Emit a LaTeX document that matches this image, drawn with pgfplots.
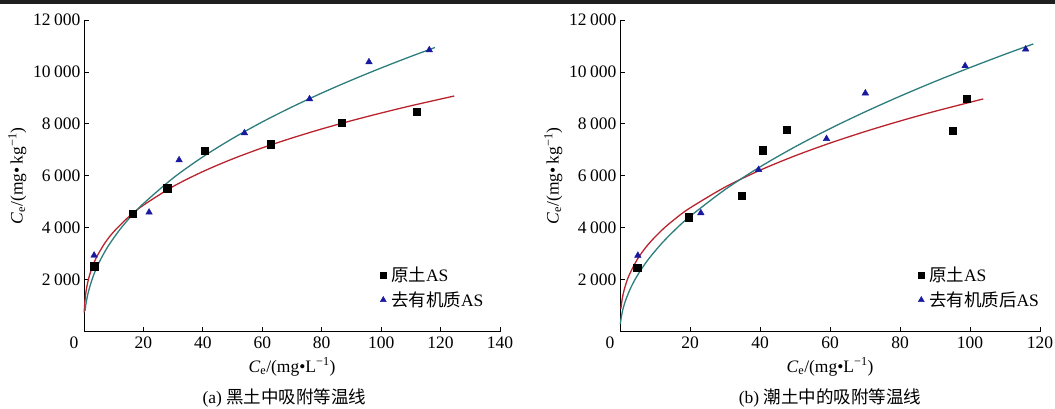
\documentclass[border=0pt]{standalone}
\usepackage{fontspec}
\setmainfont{Liberation Serif}
\newfontfamily\cjk{Noto Sans CJK SC}
\usepackage{pgfplots}
\pgfplotsset{compat=1.18}

\definecolor{cred}{RGB}{185,35,45}
\definecolor{cteal}{RGB}{45,125,125}
\definecolor{cblue}{RGB}{25,25,160}

\newcommand{\fs}{\fontsize{17.5}{21}\selectfont}

\pgfplotsset{
 myaxis/.style={
  scale only axis,
  axis lines=left,
  axis line style={-, line width=0.8pt},
  tick align=inside,
  major tick length=5pt,
  tick style={black, line width=0.8pt},
  ymin=0, ymax=12000,
  ytick={2000,4000,...,12000},
  font=\fs,
  /pgf/number format/assume math mode=true,
  /pgf/number format/1000 sep={\hspace{0.2em}},
  scaled y ticks=false,
  scaled x ticks=false,
  xticklabel style={yshift=-2pt},
  extra x ticks={0},
  extra x tick style={xticklabel style={xshift=-10pt}, major tick length=0pt},
  clip=false,
  xlabel={\textit{C}\textsubscript{e}/(mg\textbullet L\textsuperscript{−1})},
  xlabel style={yshift=-2pt},
  ylabel={\textit{C}\textsubscript{e}/(mg\textbullet\,kg\textsuperscript{−1})},
  legend cell align=left,
  legend style={draw=none, fill=none, font=\fs, anchor=north west,
    row sep=0pt, inner sep=0pt,
    nodes={inner xsep=4.5pt, inner ysep=4.3pt}},
 },
 redcurve/.style={cred, line width=1.3pt, smooth, forget plot},
 tealcurve/.style={cteal, line width=1.3pt, smooth, forget plot},
 sqmark/.style={only marks, mark=square*, mark size=3.7pt, black,
   legend image code/.code={\draw[##1, mark size=3.3pt] plot coordinates {(0pt,0pt)};}},
 trimark/.style={only marks, mark=triangle*, mark size=3.8pt, cblue,
   legend image code/.code={\draw[##1, mark size=3.4pt] plot coordinates {(0pt,0pt)};}},
}

\begin{document}
\begin{tikzpicture}
\path[use as bounding box] (0pt,0pt) rectangle (1055pt,409pt);
\fill[black!88] (0pt,405pt) rectangle (1055pt,409pt);

% ---------- panel (a)
\begin{axis}[myaxis,
  at={(84pt,77.3pt)}, anchor=south west,
  width=416pt, height=311.7pt,
  xmin=0, xmax=140, xtick={20,40,...,140},
  legend style={at={(axis description cs:0.711,0.222)}},
]
\addplot[redcurve] coordinates {(0.08,745) (0.2,1018) (0.5,1390) (1,1759) (2,2226) (4,2818) (7,3409) (10,3848) (15,4417) (20,4871) (30,5591) (40,6165) (50,6651) (60,7077) (70,7457) (80,7805) (90,8123) (100,8419) (110,8697) (124.6,9074)};
\addplot[tealcurve] coordinates {(0.35,804) (0.7,1097) (1.5,1544) (3,2106) (5,2649) (8,3270) (12,3923) (16,4463) (20,4933) (30,5916) (40,6731) (50,7440) (60,8075) (70,8652) (80,9187) (90,9684) (100,10153) (110,10597) (118.1,10940)};
\addplot[sqmark] coordinates {(3.4,2528) (16.3,4543) (28.0,5518) (40.7,6969) (62.8,7225) (86.7,8047) (112.0,8470)};
\addlegendentry{{\cjk 原土}AS}
\addplot[trimark] coordinates {(3.4,2939) (21.9,4595) (32.0,6610) (54.0,7649) (75.9,8958) (95.9,10383) (116.2,10845)};
\addlegendentry{{\cjk 去有机质}AS}
\end{axis}

% ---------- panel (b)
\begin{axis}[myaxis,
  at={(620pt,77.3pt)}, anchor=south west,
  width=420pt, height=311.7pt,
  xmin=0, xmax=120, xtick={20,40,...,120},
  legend style={at={(axis description cs:0.709,0.222)}},
]
\addplot[redcurve] coordinates {(0.25,886) (0.6,1239) (1.2,1617) (2.5,2144) (5,2797) (8,3351) (12,3915) (16,4372) (20,4764) (30,5565) (40,6216) (50,6771) (60,7261) (70,7704) (80,8110) (90,8485) (103.8,8962)};
\addplot[tealcurve] coordinates {(0.1,290) (0.3,510) (0.7,790) (1.5,1169) (3,1671) (5,2174) (8,2769) (12,3412) (16,3957) (20,4440) (30,5470) (40,6344) (50,7116) (60,7817) (70,8462) (80,9065) (90,9633) (100,10168) (110,10681) (118.1,11078)};
\addplot[sqmark] coordinates {(4.95,2459) (19.6,4406) (34.8,5238) (40.7,6980) (47.7,7787) (95.0,7736) (99.0,8978)};
\addlegendentry{{\cjk 原土}AS}
\addplot[trimark] coordinates {(5.1,2933) (23.1,4572) (39.6,6237) (59.0,7428) (70.1,9183) (98.6,10233) (115.9,10873)};
\addlegendentry{{\cjk 去有机质后}AS}
\end{axis}

\node[font=\fs] at (284.5pt,11pt) {(a) {\cjk 黑土中吸附等温线}};
\node[font=\fs] at (830pt,11pt) {(b) {\cjk 潮土中的吸附等温线}};
\end{tikzpicture}
\end{document}
